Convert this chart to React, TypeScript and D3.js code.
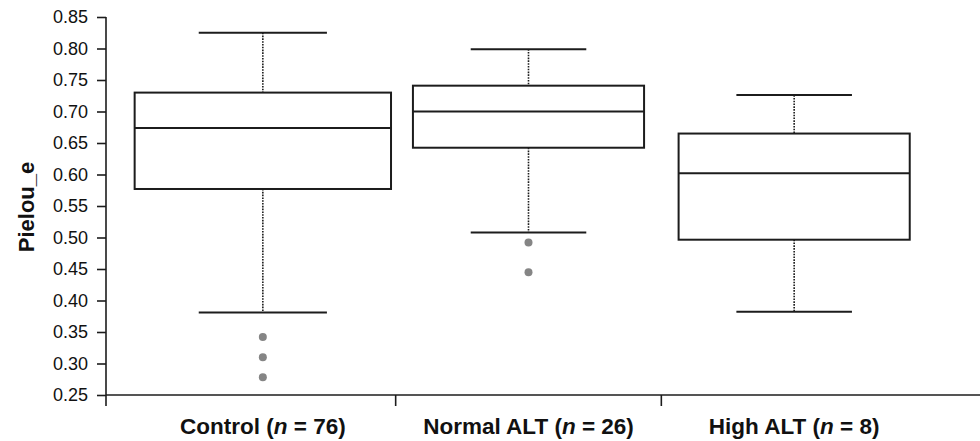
import React, { useEffect, useRef } from "react";
import * as d3 from "d3";

// group labels and sample sizes (n is italic)
const groups = ["Control", "Normal ALT", "High ALT"];
const groupN = [76, 26, 8];

// box stats
const whiskerLow = [0.381, 0.508, 0.382];
const q1 = [0.577, 0.6425, 0.4965];
const median = [0.674, 0.7, 0.602];
const q3 = [0.73, 0.741, 0.665];
const whiskerHigh = [0.825, 0.799, 0.726];
const outliers = [
  [0.342, 0.31, 0.278],
  [0.492, 0.445],
  [],
];

const yTicks = [0.25, 0.3, 0.35, 0.4, 0.45, 0.5, 0.55, 0.6, 0.65, 0.7, 0.75, 0.8, 0.85];
const yLabel = "Pielou_e";

const width = 980;
const height = 441;
const margins = { top: 17, right: 0, bottom: 46, left: 106 };
// control box is drawn a bit wider than the other two
const boxFrac = [0.965, 0.87, 0.87];
const ink = "#1c1c1c";
const font = "'Liberation Sans', Arial, sans-serif";

const App: React.FC = () => {
  const ref = useRef<SVGSVGElement | null>(null);

  useEffect(() => {
    if (!ref.current) return;
    const svg = d3.select(ref.current);
    svg.selectAll("*").remove();

    const y = d3
      .scaleLinear()
      .domain([0.25, 0.85])
      .range([height - margins.bottom, margins.top]);
    const x = d3.scaleBand<string>().domain(groups).range([130, 927]).padding(0);

    // y axis
    const yAxis = svg
      .append("g")
      .attr("transform", `translate(${margins.left},0)`)
      .call(
        d3
          .axisLeft(y)
          .tickValues(yTicks)
          .tickSize(9)
          .tickPadding(9)
          .tickFormat((v) => d3.format(".2f")(v as number))
      );
    yAxis.select(".domain").attr("stroke", ink).attr("stroke-width", 1.6).attr("d", `M0,${y(0.85)}V${y(0.25)}`);
    yAxis.selectAll(".tick line").attr("stroke", ink).attr("stroke-width", 1.6);
    yAxis
      .selectAll(".tick text")
      .attr("fill", "#111")
      .style("font-family", font)
      .style("font-size", "18px");

    // x axis: full-width baseline with group separators
    const baseY = y(0.25);
    const xAxis = svg.append("g");
    xAxis
      .append("line")
      .attr("x1", margins.left)
      .attr("x2", width)
      .attr("y1", baseY)
      .attr("y2", baseY)
      .attr("stroke", ink)
      .attr("stroke-width", 1.6);
    const seps = [margins.left, ...groups.slice(1).map((g) => x(g) || 0)];
    xAxis
      .selectAll(".sep")
      .data(seps)
      .enter()
      .append("line")
      .attr("x1", (d) => d)
      .attr("x2", (d) => d)
      .attr("y1", baseY)
      .attr("y2", baseY + 11)
      .attr("stroke", ink)
      .attr("stroke-width", 1.6);

    // category labels
    const labels = xAxis
      .selectAll(".lab")
      .data(groups)
      .enter()
      .append("text")
      .attr("x", (g) => (x(g) || 0) + x.bandwidth() / 2)
      .attr("y", height - 7)
      .attr("text-anchor", "middle")
      .style("font-family", font)
      .style("font-size", "22.5px")
      .style("font-weight", "bold")
      .attr("fill", "#111");
    labels.append("tspan").text((g) => `${g} (`);
    labels.append("tspan").style("font-style", "italic").text("n");
    labels.append("tspan").text((_, i) => ` = ${groupN[i]})`);

    // y label
    svg
      .append("text")
      .attr("transform", `translate(34,${y(0.55) + 1}) rotate(-90)`)
      .attr("text-anchor", "middle")
      .style("font-family", font)
      .style("font-size", "22px")
      .style("font-weight", "bold")
      .attr("fill", "#111")
      .text(yLabel);

    // boxes
    const rows = groups.map((g, i) => ({
      g,
      cx: (x(g) || 0) + x.bandwidth() / 2,
      w: x.bandwidth() * boxFrac[i],
      lo: whiskerLow[i],
      q1: q1[i],
      med: median[i],
      q3: q3[i],
      hi: whiskerHigh[i],
      out: outliers[i],
    }));

    const box = svg
      .selectAll(".box")
      .data(rows)
      .enter()
      .append("g")
      .attr("class", "box");

    // dotted whiskers
    box
      .append("line")
      .attr("x1", (d) => d.cx)
      .attr("x2", (d) => d.cx)
      .attr("y1", (d) => y(d.hi))
      .attr("y2", (d) => y(d.q3))
      .attr("stroke", ink)
      .attr("stroke-width", 1.6)
      .attr("stroke-dasharray", "1.6,1.2");
    box
      .append("line")
      .attr("x1", (d) => d.cx)
      .attr("x2", (d) => d.cx)
      .attr("y1", (d) => y(d.q1))
      .attr("y2", (d) => y(d.lo))
      .attr("stroke", ink)
      .attr("stroke-width", 1.6)
      .attr("stroke-dasharray", "1.6,1.2");

    // caps
    ["hi", "lo"].forEach((k) => {
      box
        .append("line")
        .attr("x1", (d) => d.cx - d.w / 4)
        .attr("x2", (d) => d.cx + d.w / 4)
        .attr("y1", (d: any) => y(d[k]))
        .attr("y2", (d: any) => y(d[k]))
        .attr("stroke", ink)
        .attr("stroke-width", 2);
    });

    box
      .append("rect")
      .attr("x", (d) => d.cx - d.w / 2)
      .attr("width", (d) => d.w)
      .attr("y", (d) => y(d.q3))
      .attr("height", (d) => y(d.q1) - y(d.q3))
      .attr("fill", "white")
      .attr("stroke", ink)
      .attr("stroke-width", 2);

    box
      .append("line")
      .attr("x1", (d) => d.cx - d.w / 2)
      .attr("x2", (d) => d.cx + d.w / 2)
      .attr("y1", (d) => y(d.med))
      .attr("y2", (d) => y(d.med))
      .attr("stroke", ink)
      .attr("stroke-width", 2);

    box
      .selectAll(".out")
      .data((d) => d.out.map((v) => ({ v, cx: d.cx })))
      .enter()
      .append("circle")
      .attr("cx", (d) => d.cx)
      .attr("cy", (d) => y(d.v))
      .attr("r", 4)
      .attr("fill", "#858585");
  }, []);

  return (
    <svg
      ref={ref}
      width={width}
      height={height}
      style={{ position: "absolute", left: 0, top: 0, background: "white" }}
      role="img"
      aria-label="Pielou_e box plot"
    />
  );
};

export default App;
